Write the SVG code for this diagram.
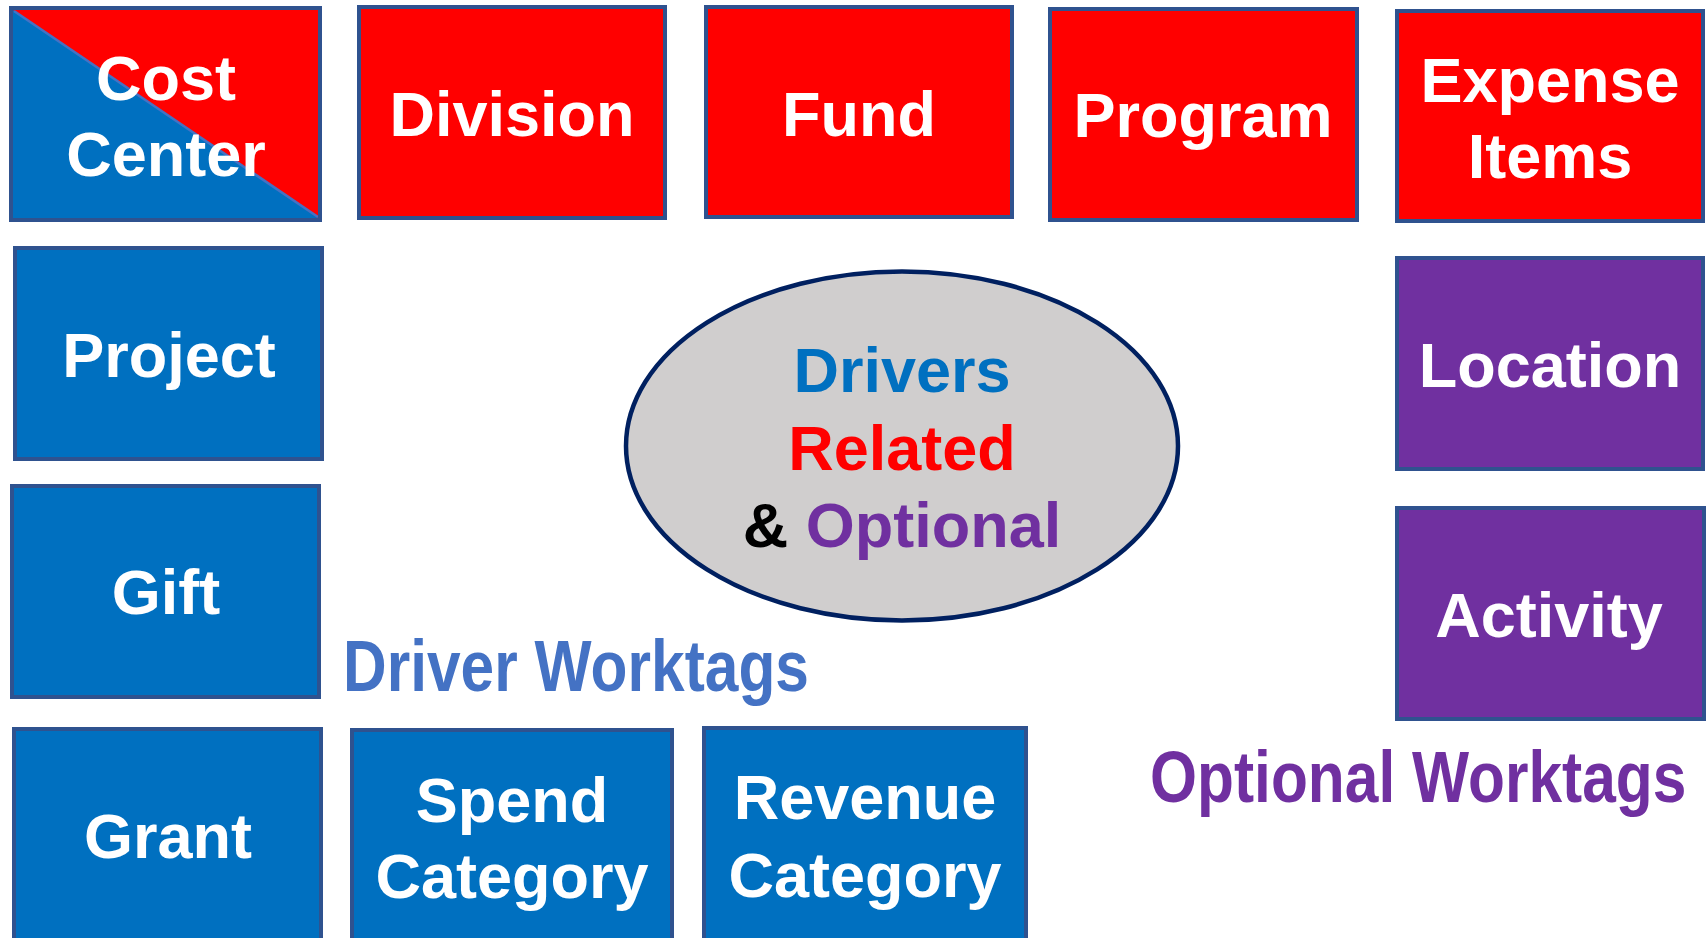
<svg xmlns="http://www.w3.org/2000/svg" width="1708" height="938" viewBox="0 0 1708 938">
<style>
.box{stroke:#2F528F;stroke-width:4}
.red{fill:#FF0000}
.blue{fill:#0070C0}
.purple{fill:#7030A0}
.t{font-family:"Liberation Sans",Arial,sans-serif;font-weight:bold;font-size:63px;fill:#FFFFFF;text-anchor:middle}
.lbl{font-family:"Liberation Sans",Arial,sans-serif;font-weight:bold;font-size:72px}
</style>
<rect width="1708" height="938" fill="#FFFFFF"/>
<g id="cost-center">
<rect class="box blue" x="11" y="8" width="309" height="212"/>
<polygon class="red" points="13,10 318,10 318,218"/>
<line x1="14" y1="11" x2="318" y2="217" stroke="#4472C4" stroke-width="2.5"/>
<rect x="11" y="8" width="309" height="212" fill="none" class="box"/>
<text class="t" x="166" y="100">Cost</text>
<text class="t" x="166" y="176">Center</text>
</g>
<g id="division">
<rect class="box red" x="359" y="7" width="306" height="211"/>
<text class="t" x="512" y="136">Division</text>
</g>
<g id="fund">
<rect class="box red" x="706" y="7" width="306" height="210"/>
<text class="t" x="859" y="136">Fund</text>
</g>
<g id="program">
<rect class="box red" x="1050" y="9" width="307" height="211"/>
<text class="t" x="1203" y="137">Program</text>
</g>
<g id="expense-items">
<rect class="box red" x="1397" y="11" width="306" height="210"/>
<text class="t" x="1550" y="102">Expense</text>
<text class="t" x="1550" y="178">Items</text>
</g>
<g id="project">
<rect class="box blue" x="15" y="248" width="307" height="211"/>
<text class="t" x="169" y="377">Project</text>
</g>
<g id="location">
<rect class="box purple" x="1397" y="258" width="306" height="211"/>
<text class="t" x="1550" y="387">Location</text>
</g>
<g id="gift">
<rect class="box blue" x="12" y="486" width="307" height="211"/>
<text class="t" x="166" y="614">Gift</text>
</g>
<g id="activity">
<rect class="box purple" x="1397" y="508" width="307" height="211"/>
<text class="t" x="1549" y="637">Activity</text>
</g>
<g id="grant">
<rect class="box blue" x="14" y="729" width="307" height="230"/>
<text class="t" x="168" y="858">Grant</text>
</g>
<g id="spend-category">
<rect class="box blue" x="352" y="730" width="320" height="230"/>
<text class="t" x="512" y="822">Spend</text>
<text class="t" x="512" y="898">Category</text>
</g>
<g id="revenue-category">
<rect class="box blue" x="704" y="728" width="322" height="230"/>
<text class="t" x="865" y="819">Revenue</text>
<text class="t" x="865" y="897">Category</text>
</g>
<g id="center-ellipse">
<ellipse cx="902" cy="446" rx="276" ry="174.5" fill="#D0CECE" stroke="#002060" stroke-width="4.5"/>
<text class="t" x="902" y="392" style="fill:#0070C0">Drivers</text>
<text class="t" x="902" y="470" style="fill:#FF0000">Related</text>
<text class="t" x="902" y="547"><tspan style="fill:#000000">&amp; </tspan><tspan style="fill:#7030A0">Optional</tspan></text>
</g>
<g id="labels">
<text class="lbl" transform="translate(343,691) scale(0.84,1)" x="0" y="0" fill="#4472C4">Driver Worktags</text>
<text class="lbl" transform="translate(1150,802) scale(0.84,1)" x="0" y="0" fill="#7030A0">Optional Worktags</text>
</g>
<g id="connectors"></g>
</svg>
